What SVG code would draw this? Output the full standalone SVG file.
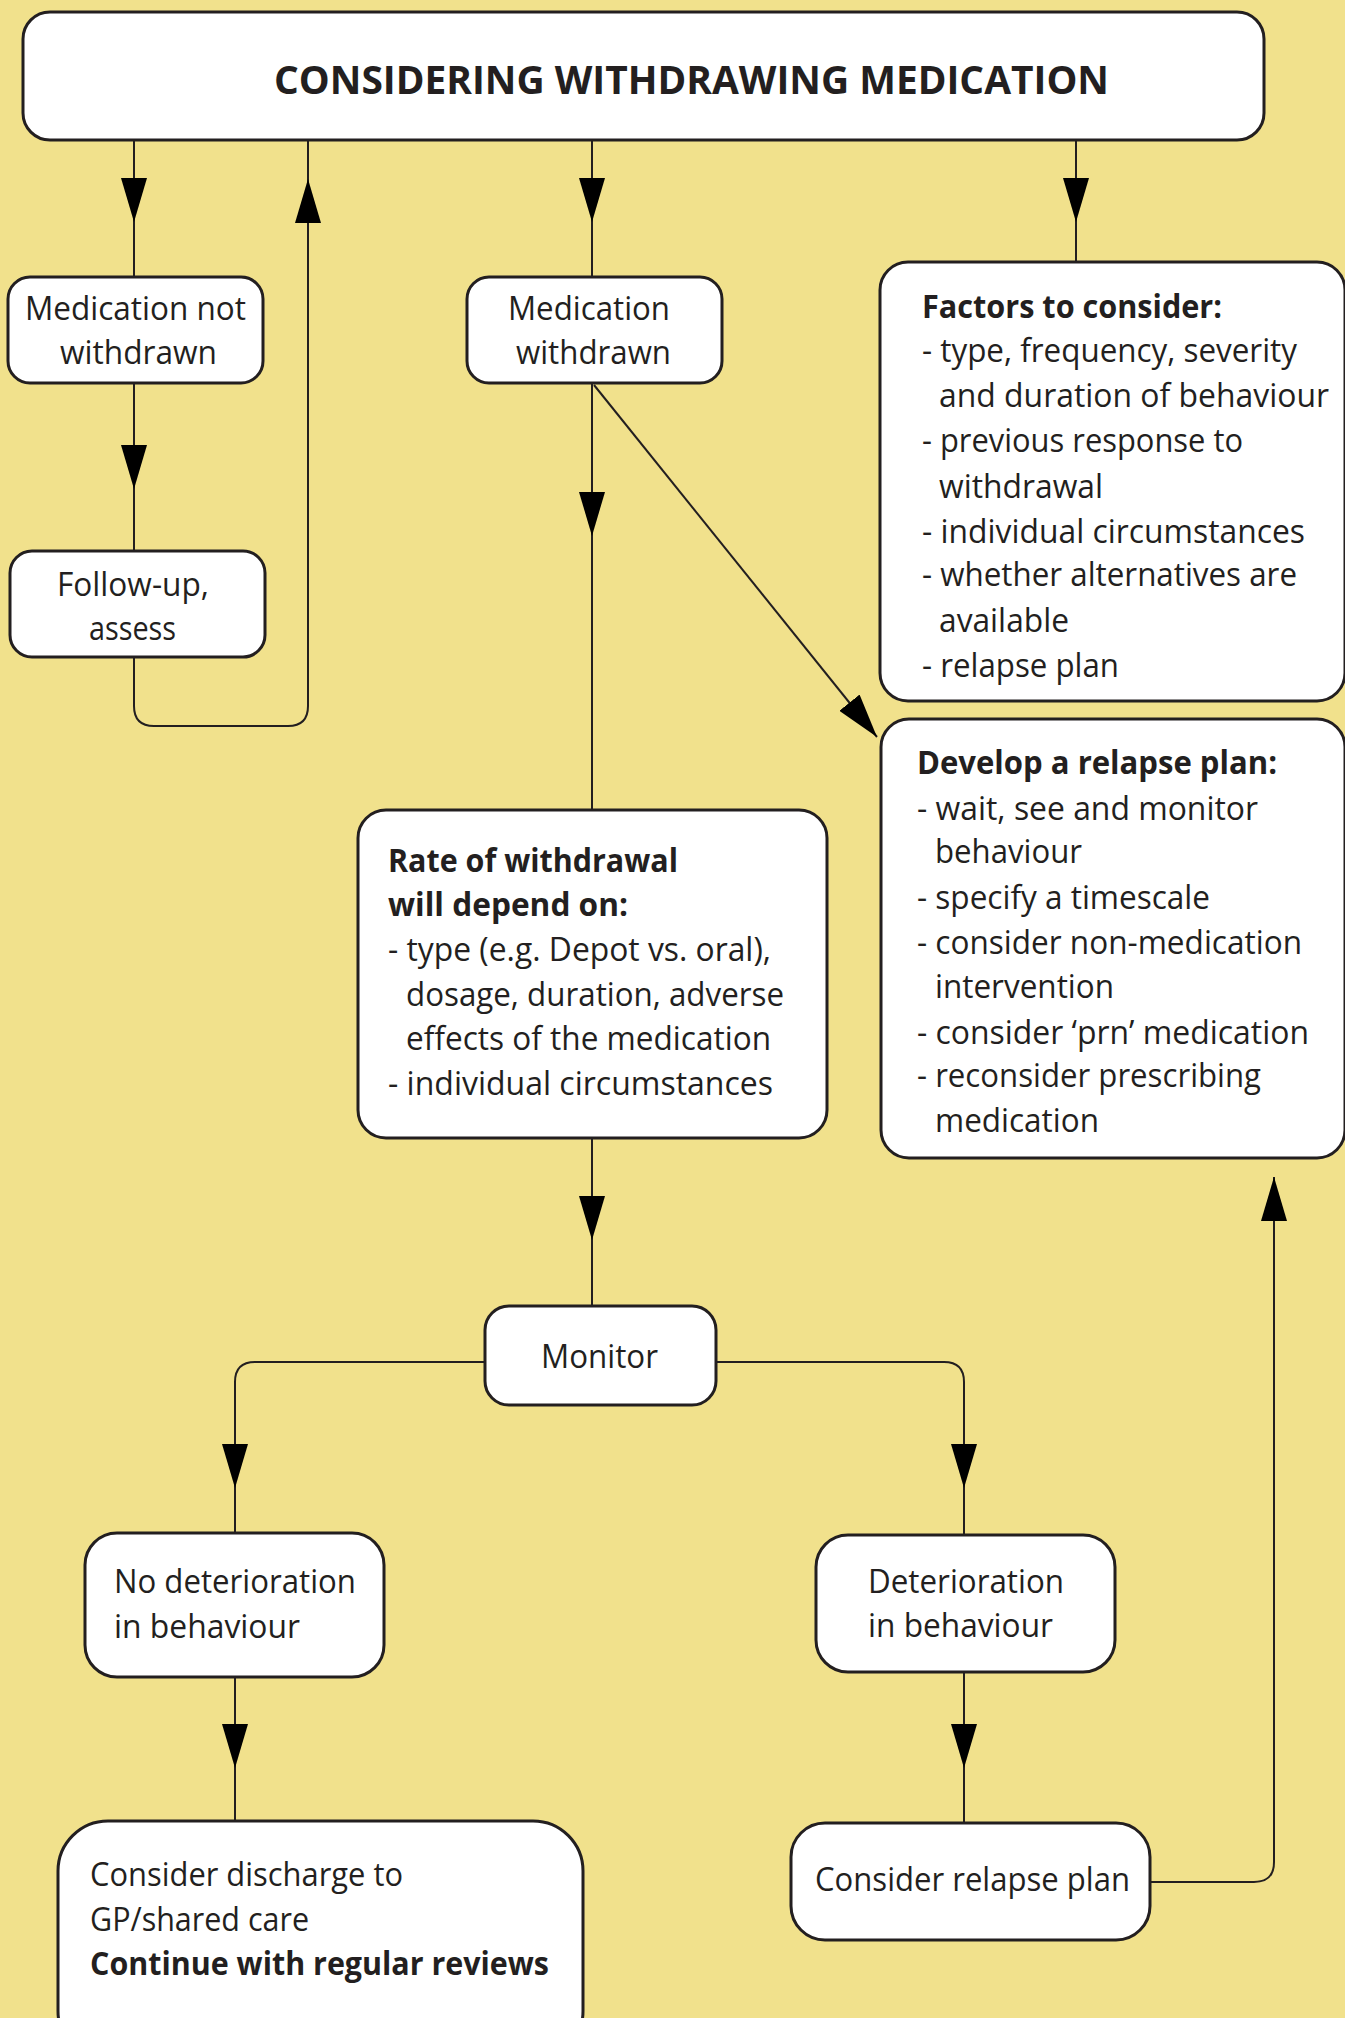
<svg xmlns="http://www.w3.org/2000/svg" width="1345" height="2018" viewBox="0 0 1345 2018">
<style>
.box{fill:#fff;stroke:#231f20;stroke-width:3}
.c{fill:none;stroke:#231f20;stroke-width:2}
text{font-family:"Open Sans","Noto Sans","Liberation Sans",sans-serif;font-size:32px;font-weight:400;fill:#231f20}
.b{font-weight:bold}
.t{font-size:40px;font-weight:bold}
</style>
<defs>
<marker id="ah" markerUnits="userSpaceOnUse" viewBox="0 0 44 26" markerWidth="44" markerHeight="26" refX="44" refY="13" orient="auto">
<path d="M0,0 L44,13 L0,26 z" fill="#000"/>
</marker>
</defs>
<rect x="0" y="0" width="1345" height="2018" fill="#f1e18c"/>

<g id="connectors">
<path class="c" d="M134,140 V222" marker-end="url(#ah)"/><path class="c" d="M134,222 V277"/>
<path class="c" d="M134,656 V706 Q134,726 154,726 H288 Q308,726 308,706 V179" marker-end="url(#ah)"/><path class="c" d="M308,179 V140"/>
<path class="c" d="M592,140 V222" marker-end="url(#ah)"/><path class="c" d="M592,222 V277"/>
<path class="c" d="M1076,140 V222" marker-end="url(#ah)"/><path class="c" d="M1076,222 V262"/>
<path class="c" d="M134,383 V489" marker-end="url(#ah)"/><path class="c" d="M134,489 V551"/>
<path class="c" d="M592,383 V536" marker-end="url(#ah)"/><path class="c" d="M592,536 V810"/>
<path class="c" d="M594,385 L877,737" marker-end="url(#ah)"/>
<path class="c" d="M592,1138 V1240" marker-end="url(#ah)"/><path class="c" d="M592,1240 V1306"/>
<path class="c" d="M485,1362 H255 Q235,1362 235,1382 V1488" marker-end="url(#ah)"/><path class="c" d="M235,1488 V1533"/>
<path class="c" d="M716,1362 H944 Q964,1362 964,1382 V1488" marker-end="url(#ah)"/><path class="c" d="M964,1488 V1535"/>
<path class="c" d="M235,1677 V1768" marker-end="url(#ah)"/><path class="c" d="M235,1768 V1821"/>
<path class="c" d="M964,1672 V1768" marker-end="url(#ah)"/><path class="c" d="M964,1768 V1823"/>
<path class="c" d="M1151,1882 H1254 Q1274,1882 1274,1862 V1177" marker-end="url(#ah)"/>
</g>

<g id="title">
<rect class="box" x="23" y="12" width="1241" height="128" rx="27"/>
<text class="t" x="274" y="94" textLength="835" lengthAdjust="spacingAndGlyphs">CONSIDERING WITHDRAWING MEDICATION</text>
</g>

<g id="not-withdrawn">
<rect class="box" x="8" y="277" width="255" height="106" rx="22"/>
<text x="25" y="320" textLength="221" lengthAdjust="spacingAndGlyphs">Medication not</text>
<text x="60" y="364" textLength="157" lengthAdjust="spacingAndGlyphs">withdrawn</text>
</g>

<g id="follow-up">
<rect class="box" x="10" y="551" width="255" height="106" rx="22"/>
<text x="57" y="596" textLength="152" lengthAdjust="spacingAndGlyphs">Follow-up,</text>
<text x="89" y="640" textLength="87" lengthAdjust="spacingAndGlyphs">assess</text>
</g>

<g id="withdrawn">
<rect class="box" x="467" y="277" width="255" height="106" rx="22"/>
<text x="508" y="320" textLength="162" lengthAdjust="spacingAndGlyphs">Medication</text>
<text x="516" y="364" textLength="155" lengthAdjust="spacingAndGlyphs">withdrawn</text>
</g>

<g id="factors">
<rect class="box" x="880" y="262" width="465" height="439" rx="28"/>
<text class="b" x="922" y="318" textLength="300" lengthAdjust="spacingAndGlyphs">Factors to consider:</text>
<text x="922" y="362" textLength="375" lengthAdjust="spacingAndGlyphs">- type, frequency, severity</text>
<text x="939" y="407" textLength="390" lengthAdjust="spacingAndGlyphs">and duration of behaviour</text>
<text x="922" y="452" textLength="321" lengthAdjust="spacingAndGlyphs">- previous response to</text>
<text x="939" y="498" textLength="164" lengthAdjust="spacingAndGlyphs">withdrawal</text>
<text x="922" y="543" textLength="383" lengthAdjust="spacingAndGlyphs">- individual circumstances</text>
<text x="922" y="586" textLength="375" lengthAdjust="spacingAndGlyphs">- whether alternatives are</text>
<text x="939" y="632" textLength="130" lengthAdjust="spacingAndGlyphs">available</text>
<text x="922" y="677" textLength="197" lengthAdjust="spacingAndGlyphs">- relapse plan</text>
</g>

<g id="develop">
<rect class="box" x="881" y="719" width="464" height="439" rx="28"/>
<text class="b" x="917" y="774" textLength="360" lengthAdjust="spacingAndGlyphs">Develop a relapse plan:</text>
<text x="917" y="820" textLength="341" lengthAdjust="spacingAndGlyphs">- wait, see and monitor</text>
<text x="935" y="863" textLength="147" lengthAdjust="spacingAndGlyphs">behaviour</text>
<text x="917" y="909" textLength="293" lengthAdjust="spacingAndGlyphs">- specify a timescale</text>
<text x="917" y="954" textLength="385" lengthAdjust="spacingAndGlyphs">- consider non-medication</text>
<text x="935" y="998" textLength="179" lengthAdjust="spacingAndGlyphs">intervention</text>
<text x="917" y="1044" textLength="392" lengthAdjust="spacingAndGlyphs">- consider ‘prn’ medication</text>
<text x="917" y="1087" textLength="344" lengthAdjust="spacingAndGlyphs">- reconsider prescribing</text>
<text x="935" y="1132" textLength="164" lengthAdjust="spacingAndGlyphs">medication</text>
</g>

<g id="rate">
<rect class="box" x="358" y="810" width="469" height="328" rx="28"/>
<text class="b" x="388" y="872" textLength="290" lengthAdjust="spacingAndGlyphs">Rate of withdrawal</text>
<text class="b" x="388" y="916" textLength="240" lengthAdjust="spacingAndGlyphs">will depend on:</text>
<text x="388" y="961" textLength="383" lengthAdjust="spacingAndGlyphs">- type (e.g. Depot vs. oral),</text>
<text x="406" y="1006" textLength="378" lengthAdjust="spacingAndGlyphs">dosage, duration, adverse</text>
<text x="406" y="1050" textLength="365" lengthAdjust="spacingAndGlyphs">effects of the medication</text>
<text x="388" y="1095" textLength="385" lengthAdjust="spacingAndGlyphs">- individual circumstances</text>
</g>

<g id="monitor">
<rect class="box" x="485" y="1306" width="231" height="99" rx="24"/>
<text x="541" y="1368" textLength="117" lengthAdjust="spacingAndGlyphs">Monitor</text>
</g>

<g id="no-deterioration">
<rect class="box" x="85" y="1533" width="299" height="144" rx="32"/>
<text x="114" y="1593" textLength="242" lengthAdjust="spacingAndGlyphs">No deterioration</text>
<text x="114" y="1638" textLength="186" lengthAdjust="spacingAndGlyphs">in behaviour</text>
</g>

<g id="deterioration">
<rect class="box" x="816" y="1535" width="299" height="137" rx="32"/>
<text x="868" y="1593" textLength="196" lengthAdjust="spacingAndGlyphs">Deterioration</text>
<text x="868" y="1637" textLength="185" lengthAdjust="spacingAndGlyphs">in behaviour</text>
</g>

<g id="discharge">
<rect class="box" x="58" y="1821" width="525" height="240" rx="50"/>
<text x="90" y="1886" textLength="313" lengthAdjust="spacingAndGlyphs">Consider discharge to</text>
<text x="90" y="1931" textLength="219" lengthAdjust="spacingAndGlyphs">GP/shared care</text>
<text class="b" x="90" y="1975" textLength="459" lengthAdjust="spacingAndGlyphs">Continue with regular reviews</text>
</g>

<g id="relapse">
<rect class="box" x="791" y="1823" width="359" height="117" rx="34"/>
<text x="815" y="1891" textLength="315" lengthAdjust="spacingAndGlyphs">Consider relapse plan</text>
</g>
</svg>
